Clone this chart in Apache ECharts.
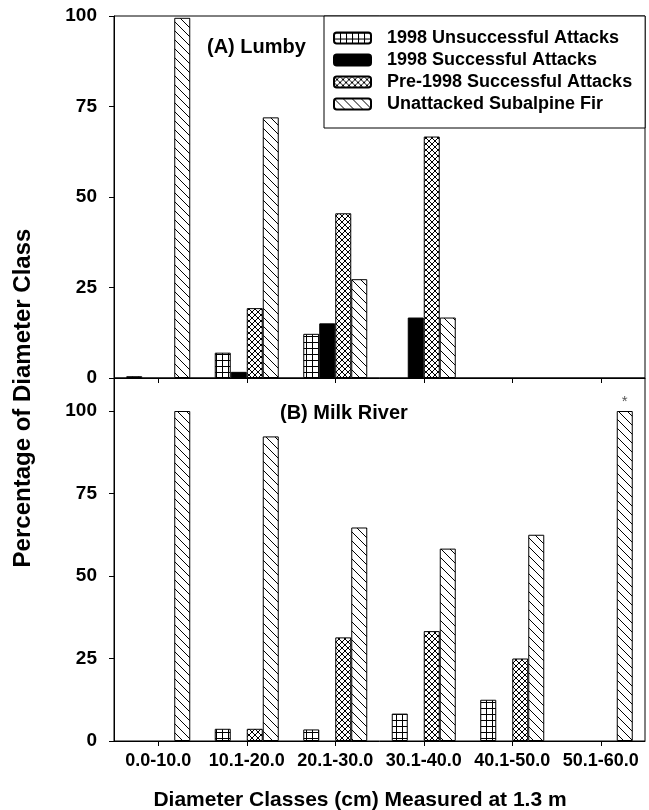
<!DOCTYPE html>
<html>
<head>
<meta charset="utf-8">
<script src="https://cdn.jsdelivr.net/npm/echarts@6/dist/echarts.min.js"></script>
<style>
html,body{margin:0;padding:0;background:#fff;}
#chart{width:649px;height:810px;}
</style>
</head>
<body>
<div id="chart"></div>
<script>
// ---- data ----
const categories = ['0.0-10.0','10.1-20.0','20.1-30.0','30.1-40.0','40.1-50.0','50.1-60.0'];
const seriesNames = ['1998 Unsuccessful Attacks','1998 Successful Attacks','Pre-1998 Successful Attacks','Unattacked Subalpine Fir'];
// (A) Lumby
const lumbyUnsuccessful = [0.5, 7.0, 12.2, 0, 0, 0];
const lumbySuccessful   = [0, 1.7, 15.1, 16.7, 0, 0];
const lumbyPre1998      = [0, 19.3, 45.5, 66.7, 0, 0];
const lumbyUnattacked   = [99.5, 72.0, 27.3, 16.7, 0, 0];
// (B) Milk River
const milkUnsuccessful = [0, 3.7, 3.5, 8.3, 12.5, 0];
const milkSuccessful   = [0, 0, 0, 0, 0, 0];
const milkPre1998      = [0, 3.7, 31.4, 33.3, 25.0, 0];
const milkUnattacked   = [100, 92.3, 64.7, 58.3, 62.5, 100];
const milkNotes        = ['', '', '', '', '', '*'];
const yTicks = [0, 25, 50, 75, 100];
const panelLabels = ['(A) Lumby', '(B) Milk River'];
const xTitle = 'Diameter Classes (cm) Measured at 1.3 m';
const yTitle = 'Percentage of Diameter Class';

// ---- patterns ----
function makeTile(size, draw) {
  const c = document.createElement('canvas');
  c.width = size; c.height = size;
  const ctx = c.getContext('2d');
  ctx.fillStyle = '#fff';
  ctx.fillRect(0, 0, size, size);
  ctx.strokeStyle = '#000';
  ctx.lineWidth = 1;
  draw(ctx, size);
  return c;
}
const gridTile = makeTile(6, (ctx, s) => {
  ctx.beginPath();
  ctx.moveTo(0.5, 0); ctx.lineTo(0.5, s);
  ctx.moveTo(0, 0.5); ctx.lineTo(s, 0.5);
  ctx.stroke();
});
const crossTile = makeTile(6, (ctx, s) => {
  ctx.beginPath();
  for (let k = -1; k <= 1; k++) {
    ctx.moveTo(-1 + k * s, -1); ctx.lineTo(s + 1 + k * s, s + 1);
    ctx.moveTo(s + 1 + k * s, -1); ctx.lineTo(-1 + k * s, s + 1);
  }
  ctx.stroke();
});
const diagTile = makeTile(9, (ctx, s) => {
  ctx.beginPath();
  for (let k = -1; k <= 1; k++) {
    ctx.moveTo(-1 + k * s, -1); ctx.lineTo(s + 1 + k * s, s + 1);
  }
  ctx.stroke();
});
const fills = [
  { image: gridTile, repeat: 'repeat' },
  '#000',
  { image: crossTile, repeat: 'repeat' },
  { image: diagTile, repeat: 'repeat' }
];

const FONT = '"Liberation Sans", Arial, sans-serif';
const chart = echarts.init(document.getElementById('chart'), null, { renderer: 'canvas' });

const gridCommon = { left: 114, width: 531, show: true, borderColor: '#000', borderWidth: 1, containLabel: false };

function xAxisFor(gridIndex, showLabels) {
  return {
    type: 'category', gridIndex, data: categories,
    axisLine: { show: true, lineStyle: { color: '#000', width: 1 } },
    axisTick: { show: true, alignWithLabel: true, length: 5, lineStyle: { color: '#000' } },
    axisLabel: { show: showLabels, fontFamily: FONT, fontWeight: 'bold', fontSize: 18, color: '#000', margin: 11, interval: 0 },
    splitLine: { show: false }
  };
}
function yAxisFor(gridIndex, max) {
  return {
    type: 'value', gridIndex, min: 0, max, interval: 25,
    axisLine: { show: true, lineStyle: { color: '#000', width: 1 } },
    axisTick: { show: true, length: 5, lineStyle: { color: '#000' } },
    axisLabel: {
      fontFamily: FONT, fontWeight: 'bold', fontSize: 19, color: '#000', margin: 17,
      formatter: v => (yTicks.indexOf(v) >= 0 ? String(v) : '')
    },
    splitLine: { show: false }
  };
}

const panels = [
  [lumbyUnsuccessful, lumbySuccessful, lumbyPre1998, lumbyUnattacked],
  [milkUnsuccessful, milkSuccessful, milkPre1998, milkUnattacked]
];
const series = [];
panels.forEach((vals, p) => {
  vals.forEach((arr, i) => {
    const data = arr.map((v, j) => {
      if (v === 0) return '-';
      if (p === 1 && i === 3 && milkNotes[j]) {
        return {
          value: v,
          label: { show: true, position: 'top', formatter: milkNotes[j], fontSize: 15, color: '#555', distance: 2, fontFamily: FONT }
        };
      }
      return v;
    });
    series.push({
      type: 'bar', name: seriesNames[i], xAxisIndex: p, yAxisIndex: p,
      data, barWidth: 16, barGap: '0%',
      itemStyle: { color: fills[i], borderColor: '#000', borderWidth: 1 },
      emphasis: { disabled: true },
      animation: false
    });
  });
});

chart.setOption({
  animation: false,
  backgroundColor: '#fff',
  grid: [
    Object.assign({ top: 16, height: 362 }, gridCommon),
    Object.assign({ top: 378, height: 363 }, gridCommon)
  ],
  xAxis: [xAxisFor(0, false), xAxisFor(1, true)],
  yAxis: [yAxisFor(0, 100), yAxisFor(1, 110)],
  legend: {
    orient: 'vertical', left: 324, top: 16,
    data: seriesNames,
    backgroundColor: '#fff', borderColor: '#000', borderWidth: 1,
    padding: [13, 13, 15, 9],
    itemWidth: 37, itemHeight: 11, itemGap: 4,
    textStyle: { fontFamily: FONT, fontWeight: 'bold', fontSize: 18, color: '#000', lineHeight: 18, padding: [0, 0, 0, 11] },
    selectedMode: false
  },
  title: [
    { text: panelLabels[0], left: 207, top: 37, padding: 0, textStyle: { fontFamily: FONT, fontWeight: 'bold', fontSize: 20, color: '#000' } },
    { text: panelLabels[1], left: 280, top: 403, padding: 0, textStyle: { fontFamily: FONT, fontWeight: 'bold', fontSize: 20, color: '#000' } }
  ],
  graphic: [
    { type: 'text', x: 360, y: 800, style: { text: xTitle, font: 'bold 21px ' + FONT, fill: '#000', align: 'center', verticalAlign: 'middle', textAlign: 'center', textVerticalAlign: 'middle' } },
    { type: 'text', x: 23, y: 398, rotation: Math.PI / 2, style: { text: yTitle, font: 'bold 24px ' + FONT, fill: '#000', align: 'center', verticalAlign: 'middle', textAlign: 'center', textVerticalAlign: 'middle' } }
  ],
  series
});
</script>
</body>
</html>
